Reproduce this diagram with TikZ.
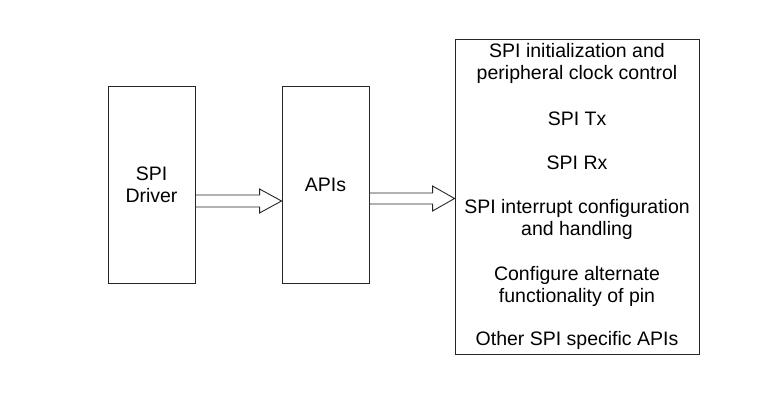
\documentclass[tikz,border=0pt]{standalone}
\usepackage{fontspec}
\setmainfont{Liberation Sans}
\usetikzlibrary{calc}
\tikzset{
  blk/.style={draw=black!85, line width=0.9pt, inner sep=0pt},
  txt/.style={align=center, font=\fontsize{19.5}{22}\selectfont, inner sep=0pt, text=black},
  fatarrow/.style={draw=black!85, line width=0.9pt, line join=miter}
}
\begin{document}
\begin{tikzpicture}[x=1pt,y=-1pt]
\useasboundingbox (0,0) rectangle (777,419);
\node[blk, minimum width=87pt, minimum height=197pt] (drv) at (151.5,184.5) {};
\node[blk, minimum width=87pt, minimum height=197pt] (api) at (325.5,184.5) {};
\node[blk, minimum width=244pt, minimum height=315pt] (list) at (577,196.5) {};
\node[txt] (drvt) at (151.5,185) {SPI\\Driver};
\node[txt] (apit) at (325.5,185) {APIs};
\node[txt] (l1) at (577,63) {SPI initialization and\\peripheral clock control};
\node[txt] (l2) at (577,119) {SPI Tx};
\node[txt] (l3) at (577,163) {SPI Rx};
\node[txt] (l4) at (577,219) {SPI interrupt configuration\\and handling};
\node[txt] (l5) at (577,286) {Configure alternate\\functionality of pin};
\node[txt] (l6) at (577,340) {Other SPI specific APIs};
\coordinate (s1) at ($(drv.east)+(0,16.5)$);
\coordinate (e1) at ($(api.west)+(0,16.5)$);
\draw[fatarrow] ($(s1)+(0,-6)$) -- ($(e1)+(-22,-6)$) -- ($(e1)+(-22,-12)$) -- (e1) -- ($(e1)+(-22,12)$) -- ($(e1)+(-22,6)$) -- ($(s1)+(0,6)$);
\coordinate (s2) at ($(api.east)+(0,14)$);
\coordinate (e2) at ($(list.west)+(0,2)$);
\draw[fatarrow] ($(s2)+(0,-5.5)$) -- ($(e2)+(-22,-5.5)$) -- ($(e2)+(-22,-12.5)$) -- (e2) -- ($(e2)+(-22,12.5)$) -- ($(e2)+(-22,5.5)$) -- ($(s2)+(0,5.5)$);
\end{tikzpicture}
\end{document}
